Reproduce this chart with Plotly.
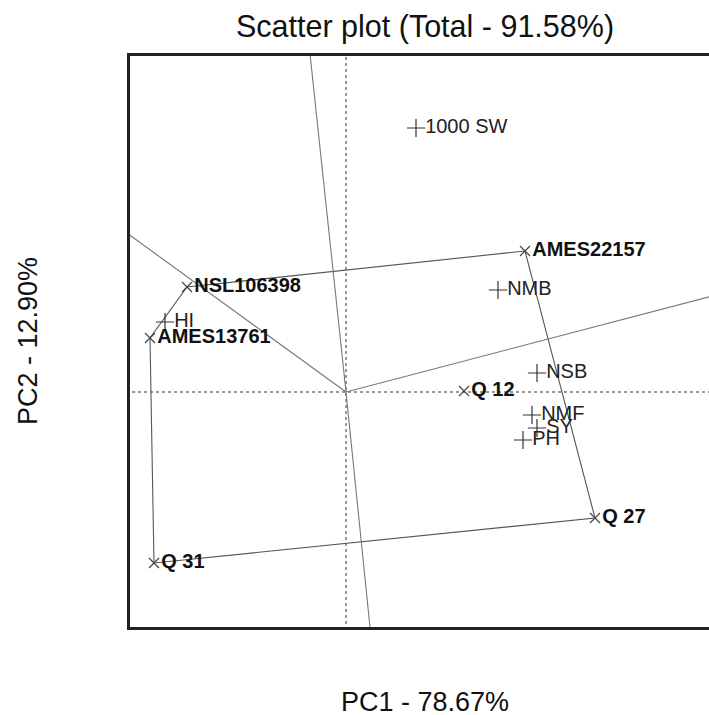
import plotly.graph_objects as go
import numpy as np

# Genotypes (polygon vertices and interior)
gen_names = ["AMES22157", "NSL106398", "AMES13761", "Q 31", "Q 27", "Q 12"]
gen_pc1 = [1.79, -1.59, -1.96, -1.92, 2.49, 1.18]
gen_pc2 = [1.41, 1.05, 0.54, -1.71, -1.26, 0.01]

# Environments
env_names = ["1000 SW", "NMB", "HI", "NSB", "NMF", "SY", "PH"]
env_pc1 = [0.70, 1.52, -1.81, 1.91, 1.86, 1.91, 1.77]
env_pc2 = [2.64, 1.02, 0.70, 0.19, -0.23, -0.36, -0.48]

# Polygon hull order (names)
hull_order = ["AMES22157", "Q 27", "Q 31", "AMES13761", "NSL106398"]
# Sides for which perpendicular rays are drawn
ray_sides = [("NSL106398", "AMES22157"), ("AMES22157", "Q 27"),
             ("Q 27", "Q 31"), ("AMES13761", "NSL106398")]

title_text = "Scatter plot (Total - 91.58%)"
x_title = "PC1 - 78.67%"
y_title = "PC2 - 12.90%"

FONT = "Liberation Sans, Arial, sans-serif"
pos = {n: (x, y) for n, x, y in zip(gen_names, gen_pc1, gen_pc2)}

fig = go.Figure()

# dotted axes through origin
fig.add_trace(go.Scatter(x=[-10, 10], y=[0, 0], mode="lines",
                         line=dict(color="#777", width=1.5, dash="dot"), hoverinfo="skip"))
fig.add_trace(go.Scatter(x=[0, 0], y=[-10, 10], mode="lines",
                         line=dict(color="#777", width=1.5, dash="dot"), hoverinfo="skip"))

# polygon
hx = [pos[n][0] for n in hull_order] + [pos[hull_order[0]][0]]
hy = [pos[n][1] for n in hull_order] + [pos[hull_order[0]][1]]
fig.add_trace(go.Scatter(x=hx, y=hy, mode="lines",
                         line=dict(color="#555", width=1.1), hoverinfo="skip"))

# rays perpendicular to polygon sides
for a, b in ray_sides:
    p1 = np.array(pos[a]); p2 = np.array(pos[b])
    d = p2 - p1
    n = np.array([-d[1], d[0]])
    n = n / np.linalg.norm(n)
    if np.dot(n, p1) < 0:
        n = -n
    fig.add_trace(go.Scatter(x=[0, n[0] * 12], y=[0, n[1] * 12], mode="lines",
                             line=dict(color="#777", width=1.1), hoverinfo="skip"))

# environments
fig.add_trace(go.Scatter(x=env_pc1, y=env_pc2, mode="markers+text", text=env_names,
                         textposition="middle right",
                         marker=dict(symbol="cross-thin-open", size=13, color="#333",
                                     line=dict(color="#333", width=1.2)),
                         textfont=dict(family=FONT, size=20, color="#222")))

# genotypes
fig.add_trace(go.Scatter(x=gen_pc1, y=gen_pc2, mode="markers+text", text=gen_names,
                         textposition="middle right",
                         marker=dict(symbol="x-thin-open", size=10, color="#444",
                                     line=dict(color="#444", width=1.2)),
                         textfont=dict(family=FONT, size=20, color="#111", weight="bold")))

fig.update_layout(
    width=709, height=715,
    margin=dict(l=130, r=0, t=56, b=88),
    paper_bgcolor="white", plot_bgcolor="white",
    showlegend=False,
    xaxis=dict(range=[-2.16, 3.63], showgrid=False, zeroline=False,
               showticklabels=False, ticks="", showline=True, mirror=True,
               linecolor="#222", linewidth=2.5),
    yaxis=dict(range=[-2.35, 3.36], showgrid=False, zeroline=False,
               showticklabels=False, ticks="", showline=True, mirror=False,
               linecolor="#222", linewidth=2.5),
    annotations=[
        dict(text=title_text, xref="paper", yref="paper", x=0.5095, y=1.0508,
             xanchor="center", yanchor="middle", showarrow=False,
             font=dict(family=FONT, size=30.5, color="#111")),
        dict(text=x_title, xref="paper", yref="paper", x=0.5095, y=-0.131,
             xanchor="center", yanchor="middle", showarrow=False,
             font=dict(family=FONT, size=27, color="#111")),
        dict(text=y_title, xref="paper", yref="paper", x=-0.176, y=0.501,
             xanchor="center", yanchor="middle", showarrow=False, textangle=-90,
             font=dict(family=FONT, size=27, color="#111")),
    ],
)

fig.write_html("out.html", config={"displayModeBar": False},
               post_script="document.body.style.margin='0';document.body.style.overflow='hidden';")
